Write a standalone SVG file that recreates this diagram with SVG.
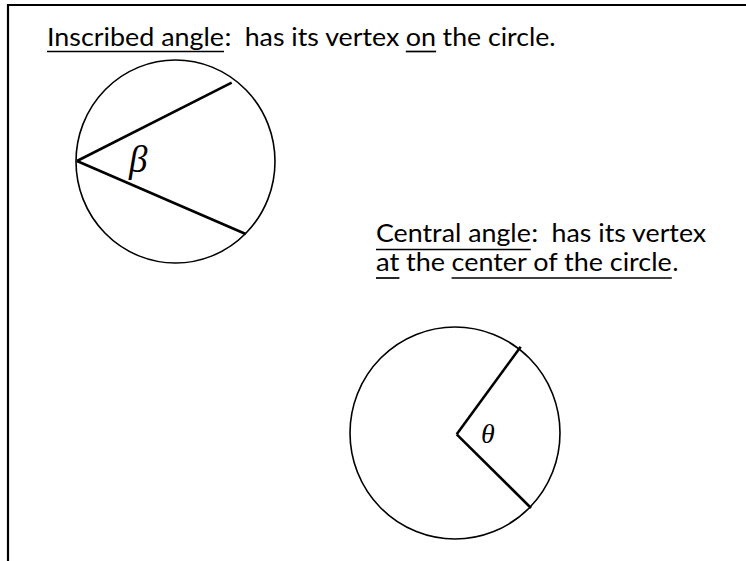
<svg xmlns="http://www.w3.org/2000/svg" width="746" height="561" viewBox="0 0 746 561">
  <style>
    .t { font-family: "Lato", "Liberation Sans", sans-serif; font-size: 25px; fill: #000; }
    .ul { stroke: #000; stroke-width: 1.7; }
    .circ { fill: none; stroke: #000; stroke-width: 1.6; }
    .ray { stroke: #000; stroke-width: 2.6; stroke-linecap: butt; }
    .sym { font-family: "Liberation Serif", "DejaVu Serif", serif; font-style: italic; fill: #000; }
    .frame { stroke: #000; stroke-width: 2.2; fill: none; }
  </style>

  <rect width="746" height="561" fill="#fff"/>
  <path class="frame" d="M8 561 V5 H746"/>

  <g id="inscribed-caption">
    <text class="t" x="47" y="46" textLength="177" lengthAdjust="spacingAndGlyphs">Inscribed angle</text>
    <text class="t" x="224.5" y="46" textLength="7" lengthAdjust="spacingAndGlyphs">:</text>
    <text class="t" x="244.7" y="46" textLength="154.6" lengthAdjust="spacingAndGlyphs">has its vertex</text>
    <text class="t" x="405.8" y="46" textLength="30.3" lengthAdjust="spacingAndGlyphs">on</text>
    <text class="t" x="442.6" y="46" textLength="113" lengthAdjust="spacingAndGlyphs">the circle.</text>
    <line class="ul" x1="47" y1="51.5" x2="224" y2="51.5"/>
    <line class="ul" x1="405.8" y1="51.5" x2="436.1" y2="51.5"/>
  </g>

  <g id="inscribed-figure">
    <ellipse class="circ" cx="175.5" cy="161.5" rx="99.5" ry="101.5"/>
    <line class="ray" x1="77" y1="161" x2="231.7" y2="82.7"/>
    <line class="ray" x1="77" y1="161" x2="245.7" y2="234"/>
    <text class="sym" x="129" y="172" font-size="37">β</text>
  </g>

  <g id="central-caption">
    <text class="t" x="376" y="242" textLength="154.8" lengthAdjust="spacingAndGlyphs">Central angle</text>
    <text class="t" x="531.3" y="242" textLength="7" lengthAdjust="spacingAndGlyphs">:</text>
    <text class="t" x="551.6" y="242" textLength="154.6" lengthAdjust="spacingAndGlyphs">has its vertex</text>
    <line class="ul" x1="376" y1="249.5" x2="530.8" y2="249.5"/>

    <text class="t" x="376" y="270.5" textLength="23.4" lengthAdjust="spacingAndGlyphs">at</text>
    <text class="t" x="406" y="270.5" textLength="39.1" lengthAdjust="spacingAndGlyphs">the</text>
    <text class="t" x="451.6" y="270.5" textLength="220.2" lengthAdjust="spacingAndGlyphs">center of the circle</text>
    <text class="t" x="672.5" y="270.5">.</text>
    <line class="ul" x1="376" y1="278" x2="399.4" y2="278"/>
    <line class="ul" x1="451.6" y1="278" x2="671.8" y2="278"/>
  </g>

  <g id="central-figure">
    <ellipse class="circ" cx="455" cy="433" rx="105" ry="106"/>
    <line class="ray" x1="456.7" y1="434.3" x2="520.7" y2="346.7"/>
    <line class="ray" x1="456.7" y1="434.3" x2="531" y2="508"/>
    <text class="sym" x="481" y="443" font-size="28">θ</text>
  </g>
</svg>
